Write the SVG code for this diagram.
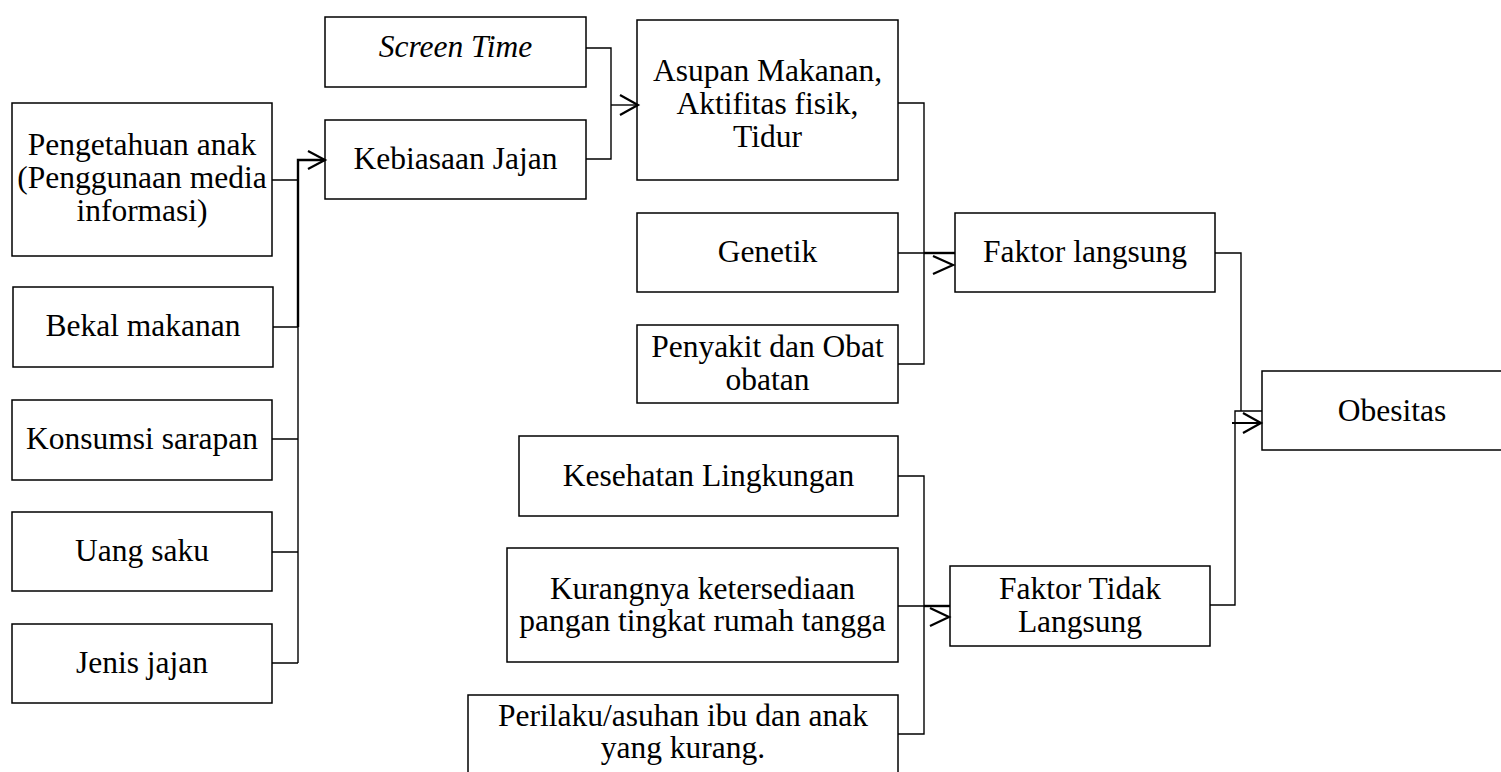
<svg xmlns="http://www.w3.org/2000/svg" width="1501" height="772" viewBox="0 0 1501 772" font-family="'Liberation Serif', 'Times New Roman', Tinos, serif">
<style>
rect{fill:#fff;stroke:#000;stroke-width:1.5}
text{font-family:'Liberation Serif', serif;font-size:31.5px;fill:#000;text-anchor:middle}
.c path{fill:none;stroke:#000;stroke-width:1.4}
.c .t{stroke-width:2.4}
.c .a{stroke-width:2.2}
</style>
<rect x="0" y="0" width="1501" height="772" style="stroke:none"/>
<g id="n-pengetahuan"><rect x="12" y="103" width="260" height="153"/><text x="142" y="155">Pengetahuan anak</text><text x="142" y="188">(Penggunaan media</text><text x="142" y="221">informasi)</text></g>
<g id="n-bekal"><rect x="13" y="287" width="260" height="80"/><text x="143" y="336">Bekal makanan</text></g>
<g id="n-konsumsi"><rect x="12" y="400" width="260" height="80"/><text x="142" y="449">Konsumsi sarapan</text></g>
<g id="n-uang"><rect x="12" y="512" width="260" height="79"/><text x="142" y="561">Uang saku</text></g>
<g id="n-jenis"><rect x="12" y="624" width="260" height="79"/><text x="142" y="673">Jenis jajan</text></g>
<g id="n-screen"><rect x="325" y="17" width="261" height="70"/><text x="455.5" y="57" font-style="italic">Screen Time</text></g>
<g id="n-kebiasaan"><rect x="325" y="120" width="261" height="79"/><text x="455.5" y="169">Kebiasaan Jajan</text></g>
<g id="n-asupan"><rect x="637" y="20" width="261" height="160"/><text x="767.5" y="81">Asupan Makanan,</text><text x="767.5" y="114">Aktifitas fisik,</text><text x="767.5" y="147">Tidur</text></g>
<g id="n-genetik"><rect x="637" y="213" width="261" height="79"/><text x="767.5" y="262">Genetik</text></g>
<g id="n-penyakit"><rect x="637" y="325" width="261" height="78"/><text x="767.5" y="357">Penyakit dan Obat</text><text x="767.5" y="390">obatan</text></g>
<g id="n-kesehatan"><rect x="519" y="436" width="379" height="80"/><text x="708.5" y="486">Kesehatan Lingkungan</text></g>
<g id="n-kurangnya"><rect x="507" y="548" width="391" height="114"/><text x="702.5" y="599">Kurangnya ketersediaan</text><text x="702.5" y="631">pangan tingkat rumah tangga</text></g>
<g id="n-perilaku"><rect x="468" y="695" width="430" height="82"/><text x="683" y="726">Perilaku/asuhan ibu dan anak</text><text x="683" y="758">yang kurang.</text></g>
<g id="n-faktor-langsung"><rect x="955" y="213" width="260" height="79"/><text x="1085" y="262">Faktor langsung</text></g>
<g id="n-faktor-tidak"><rect x="950" y="566" width="260" height="80"/><text x="1080" y="599">Faktor Tidak</text><text x="1080" y="632">Langsung</text></g>
<g id="n-obesitas"><rect x="1262" y="371" width="245" height="79"/><text x="1392" y="421">Obesitas</text></g>
<g id="connectors" class="c">
<path d="M272 180H298M273 327H298M272 439H298M272 552H298M272 663H298M298 327V663"/>
<path class="t" d="M298 327V160H325"/>
<path class="a" d="M308 151L325 160L308 169"/>
<path d="M586 48H611V159H586"/>
<path d="M611 105H638"/>
<path class="a" d="M620 95L638 105L620 115"/>
<path d="M898 103H924V364H898M898 253H924"/>
<path class="t" d="M924 253H955"/>
<path class="a" d="M933 256L953 265L933 274"/>
<path d="M898 476H924V734H898M898 606H924"/>
<path class="t" d="M924 606H950"/>
<path class="a" d="M930 608L949 617L930 626"/>
<path d="M1215 253H1241V411H1262M1210 605H1235V411H1241"/>
<path class="a" d="M1232 423H1261M1243 413L1261 423L1243 433"/>
</g>
</svg>
